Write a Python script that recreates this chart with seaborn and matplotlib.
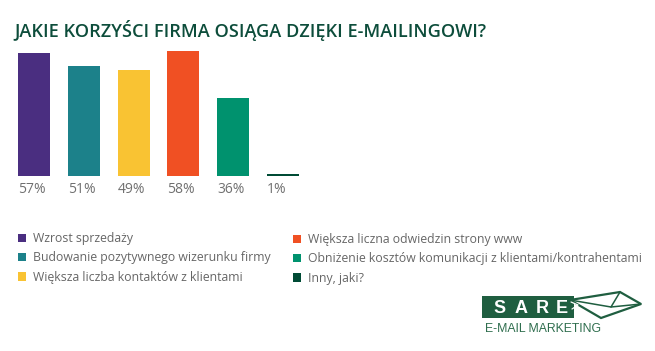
import matplotlib
matplotlib.use("Agg")
import matplotlib.pyplot as plt
import seaborn as sns
from matplotlib.patches import Patch, Rectangle, Polygon
from matplotlib.lines import Line2D

# ---- data ----
categories = [
    "Wzrost sprzedaży",
    "Budowanie pozytywnego wizerunku firmy",
    "Większa liczba kontaktów z klientami",
    "Większa liczna odwiedzin strony www",
    "Obniżenie kosztów komunikacji z klientami/kontrahentami",
    "Inny, jaki?",
]
values = [57, 51, 49, 58, 36, 1]
value_labels = ["57%", "51%", "49%", "58%", "36%", "1%"]
colors = ["#4a2e80", "#1c818a", "#f9c333", "#f05023", "#00926e", "#004b35"]
title = "JAKIE KORZYŚCI FIRMA OSIĄGA DZIĘKI E-MAILINGOWI?"

W, H = 655, 351
sns.set_theme(style="white")
plt.rcParams["font.family"] = ["Open Sans", "DejaVu Sans"]

fig = plt.figure(figsize=(W / 100, H / 100), dpi=100)
fig.patch.set_facecolor("white")


def fx(px):
    return px / W


def fy(py):
    return 1 - py / H


ax = fig.add_axes([fx(9.1), fy(176), fx(298.8), 129.4 / H])
sns.barplot(x=categories, y=values, hue=categories, palette=colors,
            legend=False, width=0.64, saturation=1, ax=ax, linewidth=0)
ax.set_xlim(-0.5, 5.5)
ax.set_ylim(0, 60)
ax.set_axis_off()

for i, lab in enumerate(value_labels):
    ax.text(i - 0.32, -7.8, lab, ha="left", va="baseline", fontsize=10,
            color="#707070", family="Open Sans")

fig.text(fx(14), fy(37), title, ha="left", va="baseline", fontsize=13.1,
         color="#0d4d3b", family="Open Sans", fontstretch="condensed",
         fontweight="semibold")

handles = [Patch(facecolor=c, edgecolor="none") for c in colors]
legkw = dict(frameon=False, borderpad=0, borderaxespad=0,
             handlelength=0.66, handleheight=0.66, handletextpad=0.55,
             labelspacing=0.52, loc="upper left",
             prop=dict(family="Open Sans", size=8.85))
leg1 = fig.legend(handles[:3], categories[:3],
                  bbox_to_anchor=(fx(18), fy(232)), **legkw)
leg2 = fig.legend(handles[3:], categories[3:],
                  bbox_to_anchor=(fx(293), fy(233)), **legkw)
for lg in (leg1, leg2):
    for t in lg.get_texts():
        t.set_color("#666666")

# ---- SARE logo ----
green = "#1f5e40"
fig.patches.append(Rectangle((fx(482), fy(318)), fx(92), 22 / H,
                             transform=fig.transFigure, facecolor=green,
                             edgecolor="none"))
env = [(570, 300), (620, 292), (641, 304), (601, 318)]
fig.patches.append(Polygon([(fx(a), fy(b)) for a, b in env], closed=True,
                           transform=fig.transFigure, facecolor="white",
                           edgecolor=green, linewidth=1.6))
for seg in ([(570, 300), (611, 307), (641, 304)], [(620, 292), (611, 307)]):
    fig.lines.append(Line2D([fx(a) for a, b in seg], [fy(b) for a, b in seg],
                            transform=fig.transFigure, color=green,
                            linewidth=1.1))
for seg in ([(571, 302), (578, 305), (572, 309)],):
    fig.lines.append(Line2D([fx(a) for a, b in seg], [fy(b) for a, b in seg],
                            transform=fig.transFigure, color="white",
                            linewidth=0.9))
for ch, cx in zip("SARE", [500, 521, 542, 562]):
    fig.text(fx(cx), fy(313), ch, ha="center", va="baseline", fontsize=13,
             fontweight="bold", color="white", family="Liberation Sans")
fig.text(fx(485), fy(331.5), "E-MAIL MARKETING", ha="left", va="baseline",
         fontsize=8.8, color="#2f6e4e", family="Liberation Sans")

fig.savefig("out.png", dpi=100, facecolor="white")
